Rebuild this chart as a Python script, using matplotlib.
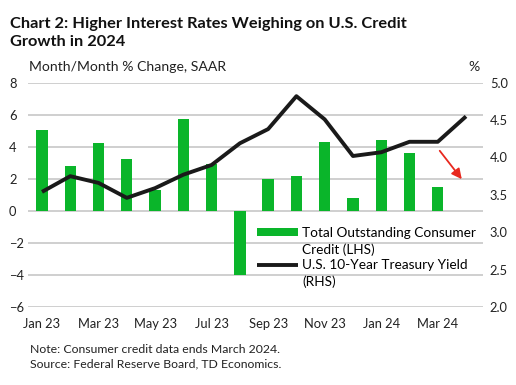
import numpy as np
import matplotlib
matplotlib.use("Agg")
import matplotlib.pyplot as plt
from matplotlib.patches import Patch

plt.rcParams['font.family'] = ['Lato', 'DejaVu Sans']

months = ["Jan 23", "Feb 23", "Mar 23", "Apr 23", "May 23", "Jun 23", "Jul 23", "Aug 23",
          "Sep 23", "Oct 23", "Nov 23", "Dec 23", "Jan 24", "Feb 24", "Mar 24", "Apr 24"]
# consumer credit, m/m % change SAAR (ends March 2024)
credit = [5.04, 2.8, 4.25, 3.23, 1.31, 5.73, 2.92, -4.02,
          1.98, 2.17, 4.29, 0.81, 4.42, 3.6, 1.48]
# 10-year treasury yield, %
yields = [3.54, 3.75, 3.66, 3.46, 3.59, 3.77, 3.90, 4.19,
          4.38, 4.82, 4.51, 4.02, 4.07, 4.21, 4.21, 4.55]

green = '#0ab52a'
grid_c = '#cccccc'

fig = plt.figure(figsize=(5.16, 3.85), dpi=100)
ax = fig.add_axes([0.054, 0.2026, 0.882, 0.5825])
ax2 = ax.twinx()

x = np.arange(len(months))
bars = ax.bar(x[:len(credit)], credit, width=0.4, color=green, zorder=3)
line, = ax2.plot(x, yields, color='#1a1a1a', lw=2.8, zorder=4, solid_capstyle='butt')

ax.set_ylim(-6, 8)
ax.set_yticks(range(-6, 9, 2))
ax2.set_ylim(2.0, 5.0)
ax2.set_yticks([2.0, 2.5, 3.0, 3.5, 4.0, 4.5, 5.0])
ax2.set_yticklabels([f"{v:.1f}" for v in ax2.get_yticks()])
ax.set_xlim(-0.5, 15.6)
ax.set_xticks(x[::2])
ax.set_xticklabels(months[::2])

ax.yaxis.grid(True, color=grid_c, lw=1.3, zorder=0)
ax.set_axisbelow(True)
for a in (ax, ax2):
    for s in a.spines.values():
        s.set_visible(False)
    a.tick_params(length=0, labelsize=9.3, colors='#222222')
for lab in ax.get_yticklabels():
    lab.set_horizontalalignment('left')
ax.tick_params(axis='y', pad=13.5)
ax.tick_params(axis='x', pad=8)
ax2.tick_params(axis='y', pad=5)

ax2.annotate("", xy=(14.85, 3.71), xytext=(14.07, 4.09),
             arrowprops=dict(arrowstyle='-|>', color='#e8281e', lw=1.3,
                             mutation_scale=15, shrinkA=0, shrinkB=0))

blank = Patch(visible=False)
handles = [bars, blank, line, blank]
labels = ["Total Outstanding Consumer", "Credit (LHS)",
          "U.S. 10-Year Treasury Yield", "(RHS)"]
fig.legend(handles, labels, loc='upper left', bbox_to_anchor=(0.499, 0.41),
           frameon=False, fontsize=9.8, handlelength=3.0, handleheight=0.55,
           handletextpad=0.3, labelspacing=0.28, borderaxespad=0, borderpad=0)

fig.text(0.019, 0.955, "Chart 2: Higher Interest Rates Weighing on U.S. Credit\nGrowth in 2024",
         fontsize=11.8, fontweight='bold', va='top', ha='left', color='#111111',
         linespacing=1.35)
fig.text(0.057, 0.81, "Month/Month % Change, SAAR", fontsize=10.1, va='bottom', color='#222222')
fig.text(0.908, 0.81, "%", fontsize=10.1, va='bottom', color='#222222')
fig.text(0.058, 0.04, "Note: Consumer credit data ends March 2024.\nSource: Federal Reserve Board, TD Economics.",
         fontsize=8.8, va='bottom', color='#222222', linespacing=1.35)

fig.savefig("out.png", dpi=100)
